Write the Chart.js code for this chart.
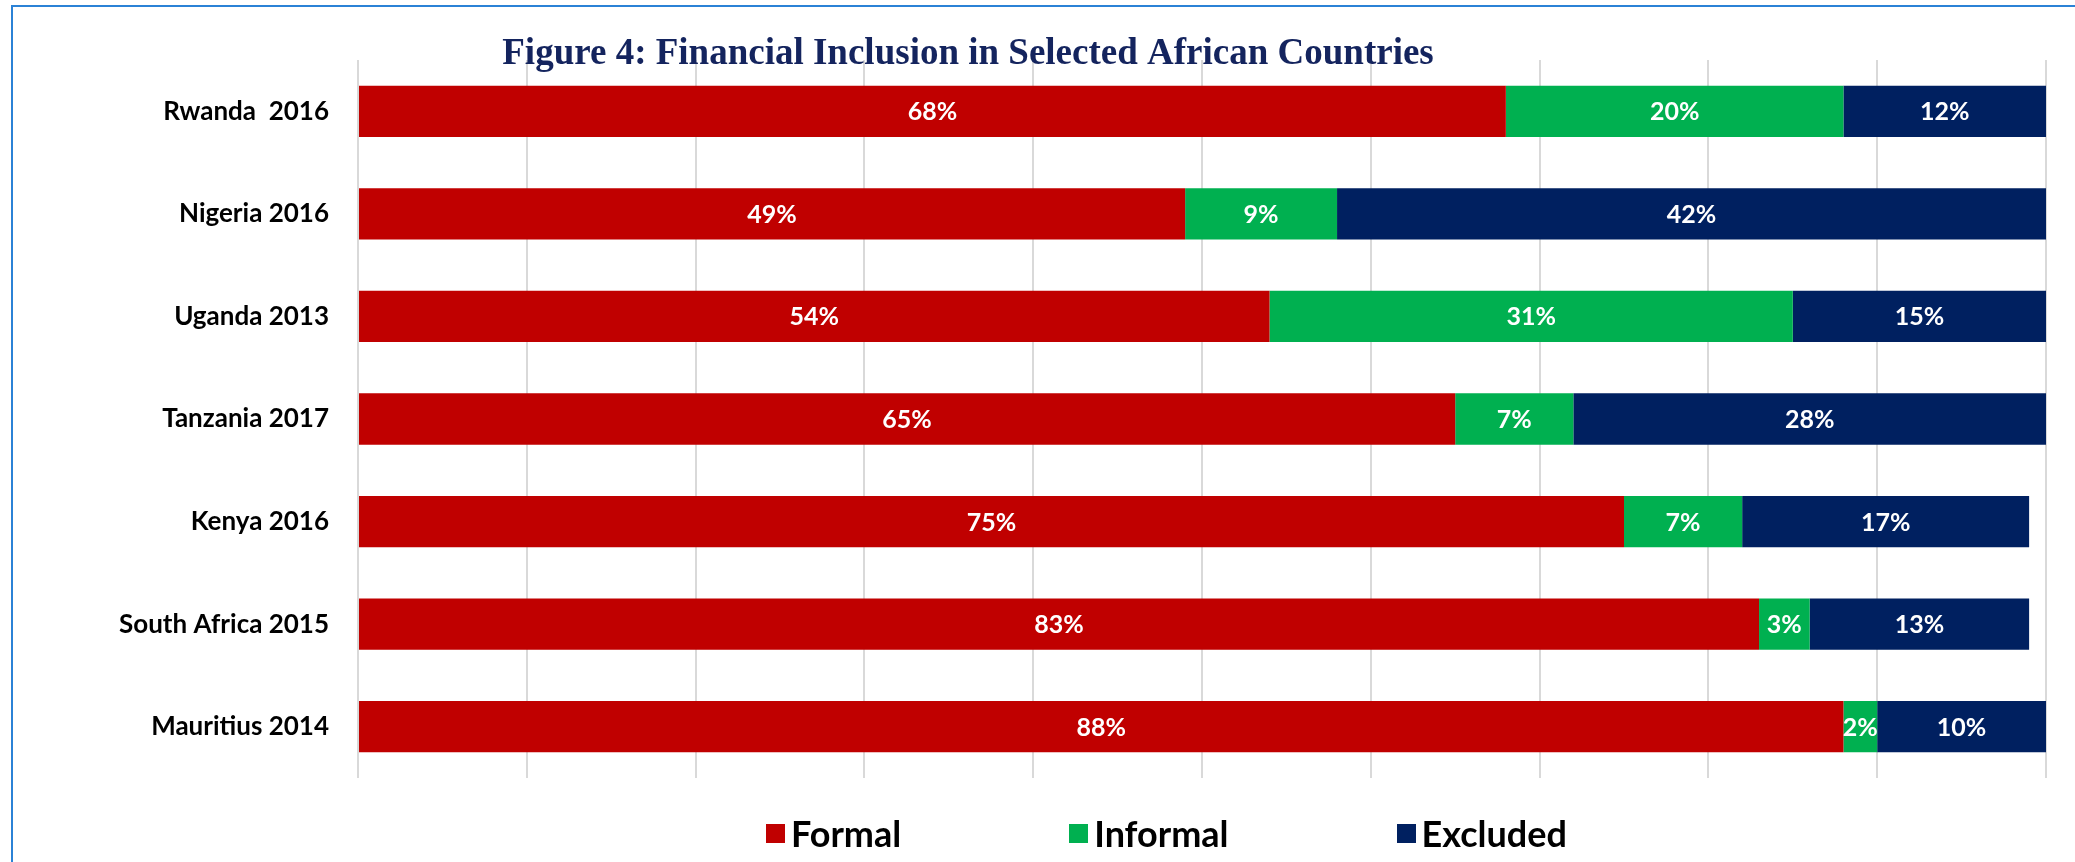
<!DOCTYPE html>
<html>
<head>
<meta charset="utf-8">
<title>Financial Inclusion in Selected African Countries</title>
<script src="https://cdn.jsdelivr.net/npm/chart.js@4.4.1/dist/chart.umd.min.js"></script>
<style>
    html, body { margin: 0; padding: 0; background: #fff; overflow: hidden; }
    #wrap { position: relative; width: 2075px; height: 862px; }
    #frame {
        position: absolute; left: 11px; top: 5px; width: 2100px; height: 900px;
        border-left: 2px solid #2b82d6; border-top: 2px solid #2b82d6;
        pointer-events: none;
    }
    #legend {
        position: absolute; left: 766px; top: 813px;
        display: flex; gap: 168px;
        font: bold 36px Lato, sans-serif; line-height: 40px; color: #000;
    }
    .item { display: flex; align-items: center; }
    .swatch { width: 19px; height: 19px; margin-right: 6px; }
</style>
</head>
<body>
<div id="wrap">
    <canvas id="inclusionChart" width="2075" height="862"></canvas>
    <div id="frame"></div>
    <div id="legend"></div>
</div>
<script>
// Countries (survey year) and shares of adults, in percent
const countries = ['Rwanda  2016', 'Nigeria 2016', 'Uganda 2013', 'Tanzania 2017', 'Kenya 2016', 'South Africa 2015', 'Mauritius 2014'];
const formal = [68, 49, 54, 65, 75, 83, 88];
const informal = [20, 9, 31, 7, 7, 3, 2];
const excluded = [12, 42, 15, 28, 17, 13, 10];

const seriesNames = ['Formal', 'Informal', 'Excluded'];
const seriesColors = ['#c00000', '#00b050', '#002060'];
const titleText = 'Figure 4: Financial Inclusion in Selected African Countries';

// Writes the percentage in the middle of every segment
const barValueLabels = {
    id: 'barValueLabels',
    afterDatasetsDraw(chart) {
        const ctx = chart.ctx;
        ctx.save();
        ctx.font = 'bold 25px Lato, sans-serif';
        ctx.fillStyle = '#ffffff';
        ctx.textAlign = 'center';
        ctx.textBaseline = 'middle';
        chart.data.datasets.forEach((ds, i) => {
            chart.getDatasetMeta(i).data.forEach((bar, j) => {
                const p = bar.getCenterPoint();
                ctx.fillText(ds.data[j] + '%', p.x, p.y + 1);
            });
        });
        ctx.restore();
    }
};

// Figure caption sitting over the top of the grid
const figureTitle = {
    id: 'figureTitle',
    afterDraw(chart) {
        const ctx = chart.ctx;
        ctx.save();
        ctx.font = 'bold 37px "Liberation Serif", "Times New Roman", serif';
        ctx.fillStyle = '#14245e';
        ctx.textAlign = 'center';
        ctx.textBaseline = 'middle';
        ctx.fillText(titleText, 968, 54);
        ctx.restore();
    }
};

const datasets = [formal, informal, excluded].map((values, i) => ({
    label: seriesNames[i],
    data: values,
    backgroundColor: seriesColors[i],
    borderWidth: 0,
    categoryPercentage: 1.0,
    barPercentage: 0.5
}));

const chart = new Chart(document.getElementById('inclusionChart'), {
    type: 'bar',
    data: { labels: countries, datasets: datasets },
    options: {
        indexAxis: 'y',
        responsive: false,
        animation: false,
        devicePixelRatio: 1,
        layout: { padding: { top: 60, right: 29, bottom: 84, left: 0 } },
        plugins: {
            legend: { display: false },
            title: { display: false },
            tooltip: { enabled: false }
        },
        scales: {
            x: {
                stacked: true,
                min: 0,
                max: 100,
                ticks: { display: false, stepSize: 10 },
                grid: { color: '#d9d9d9', lineWidth: 2, drawTicks: false },
                border: { display: false },
                afterFit(scale) { scale.height = 0; }
            },
            y: {
                stacked: true,
                grid: { display: false },
                border: { display: false },
                ticks: {
                    color: '#000',
                    padding: 21,
                    font: { family: 'Lato, sans-serif', weight: 'bold', size: 26 }
                },
                afterFit(scale) { scale.width = 358; }
            }
        }
    },
    plugins: [barValueLabels, figureTitle]
});

// Legend row built from the same series
const legend = document.getElementById('legend');
chart.data.datasets.forEach(ds => {
    const item = document.createElement('div');
    item.className = 'item';
    const swatch = document.createElement('span');
    swatch.className = 'swatch';
    swatch.style.background = ds.backgroundColor;
    item.appendChild(swatch);
    item.appendChild(document.createTextNode(ds.label));
    legend.appendChild(item);
});
</script>
</body>
</html>
